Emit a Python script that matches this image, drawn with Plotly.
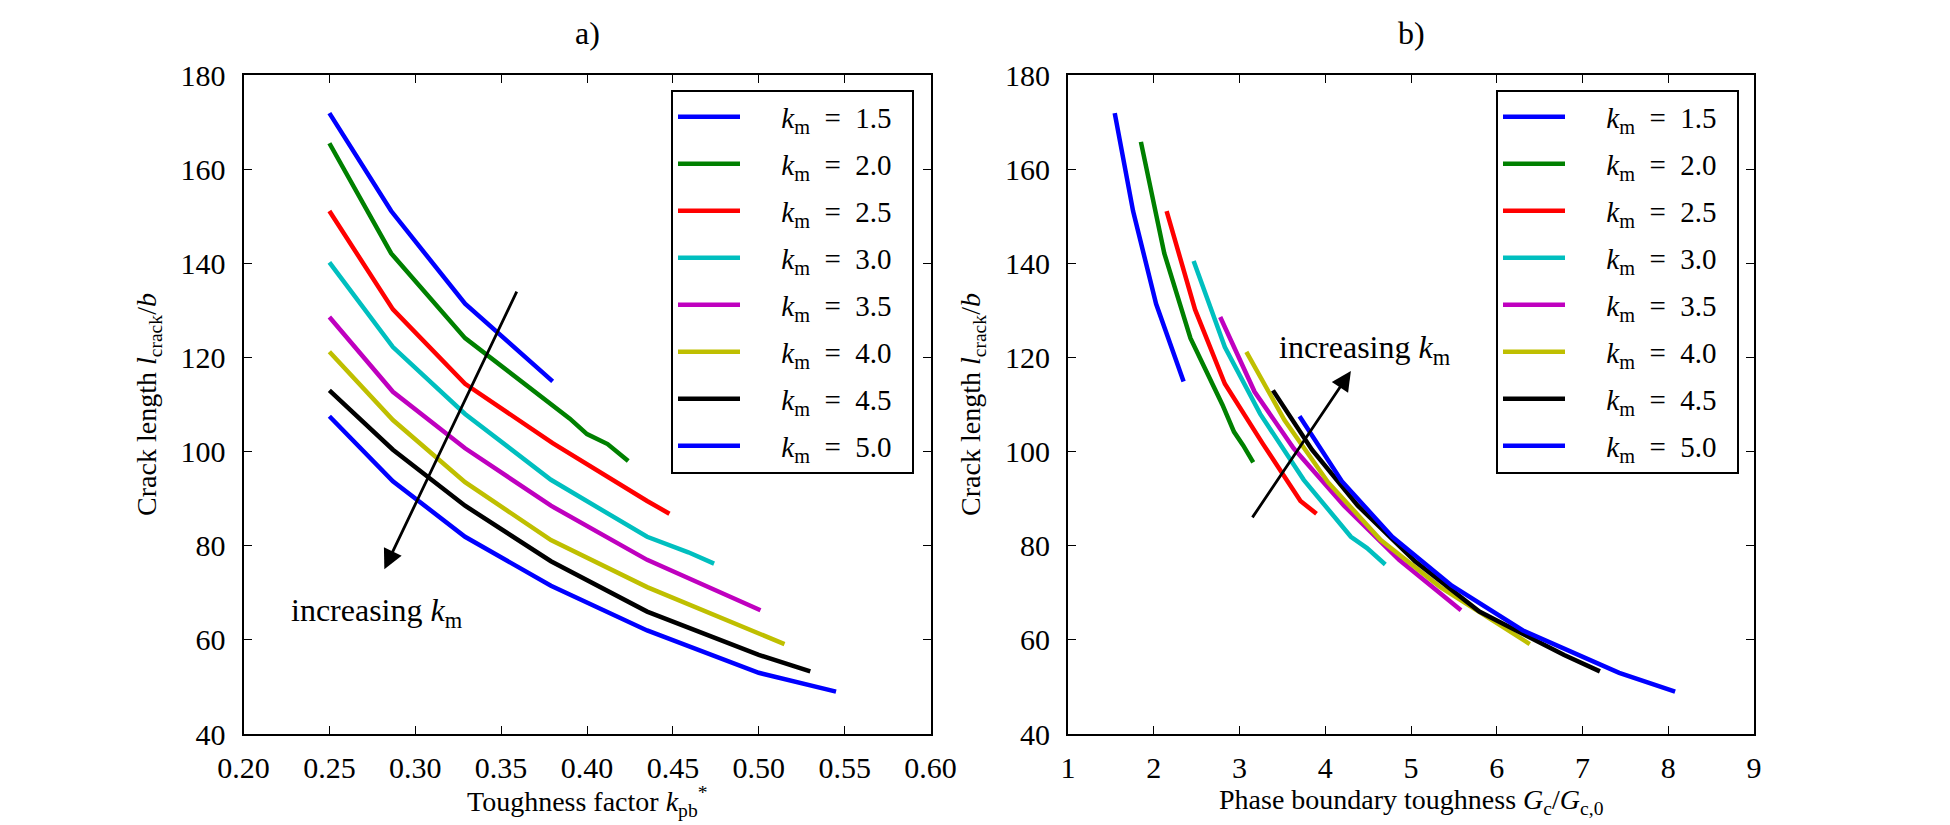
import plotly.graph_objects as go

# ---------------- data ----------------
km_labels = ["1.5", "2.0", "2.5", "3.0", "3.5", "4.0", "4.5", "5.0"]
colors = ["#0000ff", "#008000", "#ff0000", "#00bfbf", "#bf00bf", "#bfbf00", "#000000", "#0000ff"]

# panel a: toughness factor k*_pb vs crack length
xa_15 = [0.25, 0.286, 0.329, 0.38]
ya_15 = [171.9, 151.1, 131.4, 114.9]
xa_20 = [0.25, 0.286, 0.329, 0.380, 0.390, 0.400, 0.412, 0.424]
ya_20 = [165.5, 142.1, 124.1, 109.9, 107.0, 103.7, 101.6, 98.0]
xa_25 = [0.25, 0.287, 0.329, 0.380, 0.435, 0.448]
ya_25 = [151.1, 130.2, 114.4, 101.8, 89.5, 86.8]
xa_30 = [0.25, 0.287, 0.329, 0.379, 0.435, 0.459, 0.474]
ya_30 = [140.2, 122.2, 108.0, 94.0, 81.9, 78.6, 76.2]
xa_35 = [0.25, 0.287, 0.329, 0.379, 0.435, 0.501]
ya_35 = [128.6, 112.7, 100.7, 88.5, 77.0, 66.3]
xa_40 = [0.25, 0.287, 0.329, 0.379, 0.435, 0.515]
ya_40 = [121.2, 106.7, 93.5, 81.2, 71.2, 59.1]
xa_45 = [0.25, 0.287, 0.329, 0.379, 0.435, 0.500, 0.530]
ya_45 = [113.0, 100.4, 88.5, 76.7, 66.0, 56.8, 53.3]
xa_50 = [0.25, 0.287, 0.329, 0.379, 0.435, 0.500, 0.545]
ya_50 = [107.5, 93.7, 81.9, 71.5, 62.0, 53.0, 49.0]

# panel b: phase boundary toughness G_c/G_c,0 vs crack length
xb_15 = [1.545, 1.759, 2.027, 2.348]
xb_20 = [1.850, 2.123, 2.428, 2.802, 2.936, 3.043, 3.160]
yb_20 = [165.8, 142.1, 124.1, 109.9, 104.2, 101.3, 97.7]
xb_25 = [2.150, 2.481, 2.829, 3.267, 3.711, 3.898]
xb_30 = [2.465, 2.829, 3.241, 3.749, 4.299, 4.487, 4.700]
yb_30 = [140.5, 122.2, 108.0, 94.0, 81.9, 79.5, 76.0]
xb_35 = [2.775, 3.176, 3.631, 4.219, 4.861, 5.583]
xb_40 = [3.080, 3.524, 4.032, 4.647, 5.342, 6.385]
xb_45 = [3.390, 3.845, 4.380, 5.048, 5.797, 6.786, 7.203]
xb_50 = [3.700, 4.193, 4.781, 5.476, 6.305, 7.428, 8.080]

panel_a = [(xa_15, ya_15), (xa_20, ya_20), (xa_25, ya_25), (xa_30, ya_30),
           (xa_35, ya_35), (xa_40, ya_40), (xa_45, ya_45), (xa_50, ya_50)]
panel_b = [(xb_15, ya_15), (xb_20, yb_20), (xb_25, ya_25), (xb_30, yb_30),
           (xb_35, ya_35), (xb_40, ya_40), (xb_45, ya_45), (xb_50, ya_50)]

# arrows (tail -> head) and label positions, in data units
arrow_a = dict(tail=(0.3595, 134.3), head=(0.282, 75.0))
arrow_b = dict(tail=(3.139, 85.7), head=(4.299, 117.1))
label_a = (0.2265, 65.8)
label_b = (3.433, 121.7)

xtitle_a = "Toughness factor <i>k</i><sub>pb</sub><sup>*</sup>"
xtitle_b = "Phase boundary toughness <i>G</i><sub>c</sub>/<i>G</i><sub>c,0</sub>"
ytitle = "Crack length <i>l</i><sub>crack</sub>/<i>b</i>"

FONT = "Liberation Serif"
LW = 4.5
NB = "\u00a0"

def legend_name(lbl):
    return NB * 5 + "<i>k</i><sub>m</sub>" + NB * 2 + "=" + NB * 2 + lbl + NB * 2

fig = go.Figure()
for i, (xs, ys) in enumerate(panel_a):
    fig.add_trace(go.Scatter(
        x=xs, y=ys, mode="lines", line=dict(color=colors[i], width=LW),
        name=legend_name(km_labels[i]),
        legend="legend", legendgroup="a" + str(i), xaxis="x", yaxis="y"))
for i, (xs, ys) in enumerate(panel_b):
    fig.add_trace(go.Scatter(
        x=xs, y=ys, mode="lines", line=dict(color=colors[i], width=LW),
        name=legend_name(km_labels[i]),
        legend="legend2", legendgroup="b" + str(i), xaxis="x2", yaxis="y2"))

axis_common = dict(showline=True, linecolor="black", linewidth=2, mirror="ticks",
                   ticks="inside", ticklen=8, tickwidth=1.2, tickcolor="black",
                   showgrid=False, zeroline=False, automargin=False,
                   tickfont=dict(family=FONT, size=30, color="black"))

xd_a = [243.5 / 1950, 930.5 / 1950]
xd_b = [1068 / 1950, 1754 / 1950]
yd = [1 - 734 / 825, 1 - 75 / 825]
legend_common = dict(yanchor="top", xanchor="left",
                     bordercolor="black", borderwidth=2, bgcolor="white",
                     font=dict(family=FONT, size=29, color="black"), traceorder="grouped",
                     tracegroupgap=6.3, itemwidth=62)
fig.update_layout(
    template="none",
    width=1950, height=825,
    margin=dict(l=0, r=0, t=0, b=0, pad=0),
    paper_bgcolor="white", plot_bgcolor="white",
    font=dict(family=FONT, color="black"),
    xaxis=dict(domain=xd_a, range=[0.2, 0.6], dtick=0.05,
               tickformat=".2f", anchor="y", ticklabelstandoff=6, **axis_common),
    yaxis=dict(domain=yd, range=[40, 180], dtick=20, anchor="x", ticklabelstandoff=10,
               title=dict(text=ytitle, font=dict(family=FONT, size=28), standoff=16),
               **axis_common),
    xaxis2=dict(domain=xd_b, range=[1, 9], dtick=1, anchor="y2",
                ticklabelstandoff=6, **axis_common),
    yaxis2=dict(domain=yd, range=[40, 180], dtick=20, anchor="x2", ticklabelstandoff=10,
                title=dict(text=ytitle, font=dict(family=FONT, size=28), standoff=16),
                **axis_common),
    legend=dict(x=671 / 1950, y=1 - 89.5 / 825, **legend_common),
    legend2=dict(x=1496 / 1950, y=1 - 89.5 / 825, **legend_common),
    showlegend=True,
)

# x-axis titles
for txt, dom in [(xtitle_a, xd_a), (xtitle_b, xd_b)]:
    fig.add_annotation(text=txt, x=(dom[0] + dom[1]) / 2, y=1 - 801 / 825, xref="paper", yref="paper",
                       showarrow=False, font=dict(family=FONT, size=28), xanchor="center", yanchor="middle")

# panel titles
fig.add_annotation(text="a)", x=(xd_a[0] + xd_a[1]) / 2, y=1 - 33 / 825, xref="paper", yref="paper",
                   showarrow=False, font=dict(family=FONT, size=32), xanchor="center", yanchor="middle")
fig.add_annotation(text="b)", x=(xd_b[0] + xd_b[1]) / 2, y=1 - 33 / 825, xref="paper", yref="paper",
                   showarrow=False, font=dict(family=FONT, size=32), xanchor="center", yanchor="middle")

# arrows
for arr, xr, yr in [(arrow_a, "x", "y"), (arrow_b, "x2", "y2")]:
    fig.add_annotation(x=arr["head"][0], y=arr["head"][1], ax=arr["tail"][0], ay=arr["tail"][1],
                       xref=xr, yref=yr, axref=xr, ayref=yr, text="", showarrow=True,
                       arrowhead=2, arrowsize=1.4, arrowwidth=2.8, arrowcolor="black", standoff=0)

fig.add_annotation(text="increasing <i>k</i><sub>m</sub>", x=label_a[0], y=label_a[1], xref="x", yref="y",
                   showarrow=False, xanchor="left", yanchor="middle", font=dict(family=FONT, size=32))
fig.add_annotation(text="increasing <i>k</i><sub>m</sub>", x=label_b[0], y=label_b[1], xref="x2", yref="y2",
                   showarrow=False, xanchor="left", yanchor="middle", font=dict(family=FONT, size=32))

fig.write_html("out.html")
